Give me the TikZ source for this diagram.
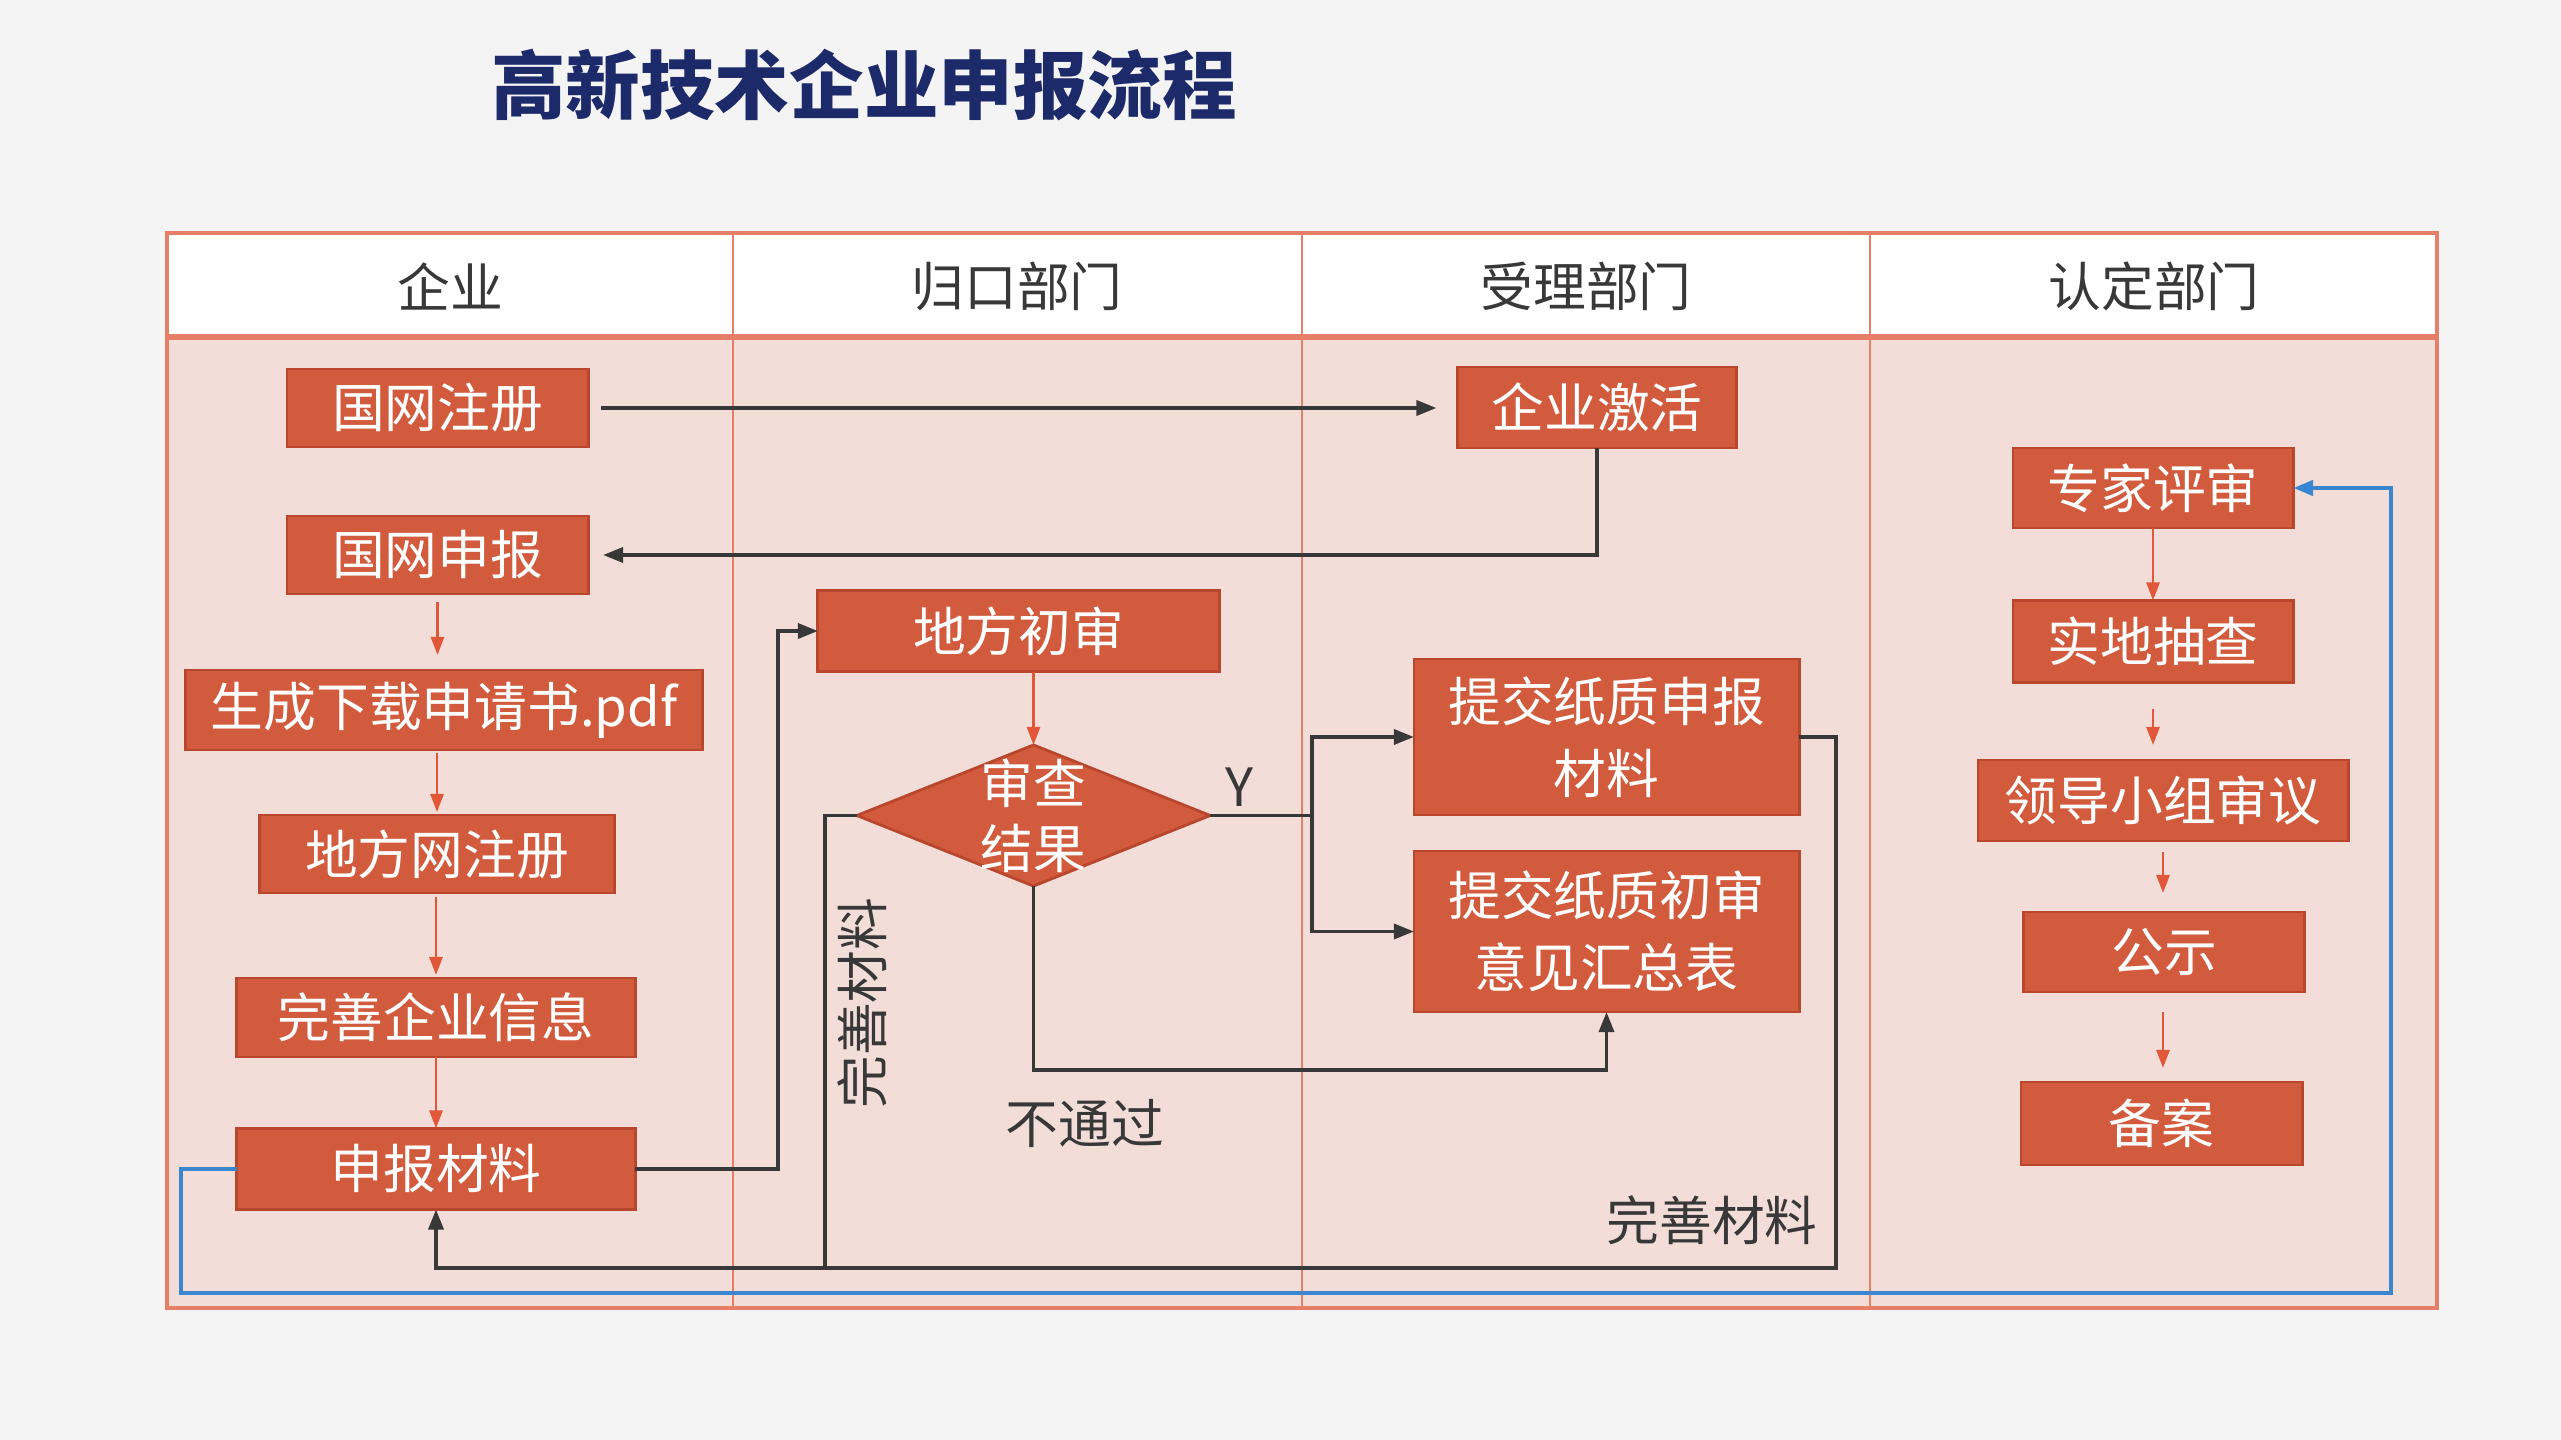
\documentclass[tikz,border=0pt]{standalone}
\usepackage{fontspec}
\setmainfont{Noto Sans CJK SC}
\usetikzlibrary{arrows.meta,shapes.geometric}
\definecolor{pagebg}{HTML}{F4F4F4}
\definecolor{bodybg}{HTML}{F2DDD8}
\definecolor{frame}{HTML}{E57F67}
\definecolor{boxfill}{HTML}{D35B3D}
\definecolor{boxline}{HTML}{B9472E}
\definecolor{ink}{HTML}{383838}
\definecolor{navy}{HTML}{1C2A6A}
\definecolor{bluel}{HTML}{3A87CF}
\definecolor{arr}{HTML}{E0573A}
\tikzset{
  box/.style={draw=boxline, fill=boxfill, line width=0.8pt, text=white,
    font=\fontsize{15}{20.5}\selectfont, inner sep=0pt, outer sep=0pt, align=center},
  hdr/.style={text=ink, font=\fontsize{15}{18}\selectfont},
  lbl/.style={text=ink, font=\fontsize{15}{18}\selectfont, inner sep=0pt},
  barrow/.style={draw=ink, line width=1pt, -{Triangle[length=0.2cm,width=0.15cm]}},
  bline/.style={draw=ink, line width=1pt},
  oarrow/.style={draw=arr, line width=0.8pt, -{Triangle[length=0.18cm,width=0.13cm]}},
  bluearrow/.style={draw=bluel, line width=1.3pt, -{Triangle[length=0.2cm,width=0.15cm]}}
}
\begin{document}
\begin{tikzpicture}[x=0.01cm,y=-0.01cm]
\useasboundingbox (0,0) rectangle (2561,1440);
\fill[pagebg] (0,0) rectangle (2561,1440);
% title
\node[text=navy, font=\fontsize{21.2}{24}\selectfont\bfseries] (title) at (864,85) {高新技术企业申报流程};
% table
\fill[bodybg] (167,337) rectangle (2437,1308);
\fill[white] (167,233) rectangle (2437,337);
\foreach \xx in {733,1302,1870} \draw[frame, line width=0.6pt] (\xx,233) -- (\xx,1308);
\draw[frame, line width=0.9pt] (167,233) rectangle (2437,1308);
\draw[frame, line width=1.6pt] (167,337) -- (2437,337);
\node[hdr] (h1) at (450,286) {企业};
\node[hdr] (h2) at (1017,286) {归口部门};
\node[hdr] (h3) at (1586,286) {受理部门};
\node[hdr] (h4) at (2154,286) {认定部门};
% column 1
\node[box, minimum width=3.01cm, minimum height=0.78cm] (n1) at (437.5,408) {国网注册};
\node[box, minimum width=3.01cm, minimum height=0.78cm] (n2) at (437.5,555) {国网申报};
\node[box, minimum width=5.16cm, minimum height=0.80cm] (n3) at (444,710) {生成下载申请书.pdf};
\node[box, minimum width=3.54cm, minimum height=0.78cm] (n4) at (437,854) {地方网注册};
\node[box, minimum width=3.98cm, minimum height=0.79cm] (n5) at (436,1017.5) {完善企业信息};
\node[box, minimum width=3.98cm, minimum height=0.81cm] (n6) at (436,1169) {申报材料};
% column 2
\node[box, minimum width=4.01cm, minimum height=0.81cm] (n7) at (1018.5,631) {地方初审};
\node[draw=boxline, fill=boxfill, line width=0.8pt, diamond, aspect=2.5, inner sep=0pt, outer sep=0pt,
      minimum width=3.53cm, minimum height=1.41cm] (dia) at (1033.5,815.5) {};
\node[text=white, font=\fontsize{15}{18.5}\selectfont, align=center, inner sep=0pt] (dtext) at (dia) {审查\\结果};
% column 3
\node[box, minimum width=2.79cm, minimum height=0.81cm] (n10) at (1597,407.5) {企业激活};
\node[box, minimum width=3.85cm, minimum height=1.56cm] (n11) at (1606.5,737) {提交纸质申报\\材料};
\node[box, minimum width=3.85cm, minimum height=1.61cm] (n12) at (1606.5,931.5) {提交纸质初审\\意见汇总表};
% column 4
\node[box, minimum width=2.80cm, minimum height=0.80cm] (n13) at (2153,488) {专家评审};
\node[box, minimum width=2.80cm, minimum height=0.82cm] (n14) at (2153,641.5) {实地抽查};
\node[box, minimum width=3.70cm, minimum height=0.81cm] (n15) at (2163,800.5) {领导小组审议};
\node[box, minimum width=2.81cm, minimum height=0.80cm] (n16) at (2164,952) {公示};
\node[box, minimum width=2.81cm, minimum height=0.83cm] (n17) at (2161.5,1123.5) {备案};
% orange arrows
\draw[oarrow] ([yshift=-0.08cm]n2.south) -- ([yshift=0.15cm]n3.north -| n2.south);
\draw[oarrow] ([yshift=-0.03cm]n3.south -| n4.north) -- ([yshift=0.03cm]n4.north);
\draw[oarrow] ([yshift=-0.04cm]n4.south -| n5.north) -- ([yshift=0.03cm]n5.north);
\draw[oarrow] (n5.south) -- (n6.north);
\draw[oarrow] (n7.south -| dia.north) -- (dia.north);
\draw[oarrow] (n13.south) -- (n14.north);
\draw[oarrow] ([yshift=-0.26cm]n14.south) -- ([yshift=0.15cm]n15.north -| n14.south);
\draw[oarrow] ([yshift=-0.11cm]n15.south) -- ([yshift=0.19cm]n16.north -| n15.south);
\draw[oarrow] ([yshift=-0.20cm]n16.south -| n15.south) -- ([yshift=0.14cm]n17.north -| n15.south);
% black connectors
\draw[barrow] ([xshift=0.13cm]n1.east) -- ([xshift=-0.21cm]n10.west |- n1.east);
\draw[barrow] (n10.south) |- ([xshift=0.15cm]n2.east);
\coordinate (c1) at (778,0);
\draw[barrow] (n6.east) -- (n6.east -| c1) |- (n7.west);
\coordinate (xL) at (825,1268);
\draw[barrow] (dia.west) -| (xL) -| (n6.south);
\coordinate (xY) at (1312,815.5);
\draw[bline] (dia.east) -- (xY);
\draw[barrow] (xY) |- (n11.west);
\draw[barrow] (xY) |- (n12.west);
\coordinate (yN) at (0,1070);
\draw[barrow] (dia.south) -- (dia.south |- yN) -| (n12.south);
\coordinate (xR) at (1836,1268);
\draw[bline] (n11.east) -| (xR) -- (xL);
% blue connector
\coordinate (bl) at (181,1293);
\coordinate (br) at (2391,1293);
\draw[bluearrow] (n6.west) -| (bl) -- (br) |- (n13.east);
% labels
\node[lbl] (ly) at (1239,787) {Y};
\node[lbl] (lno) at (1085,1123) {不通过};
\node[lbl, rotate=90] (lws1) at (862,1003) {完善材料};
\node[lbl] (lws2) at (1712,1220) {完善材料};
\end{tikzpicture}
\end{document}
